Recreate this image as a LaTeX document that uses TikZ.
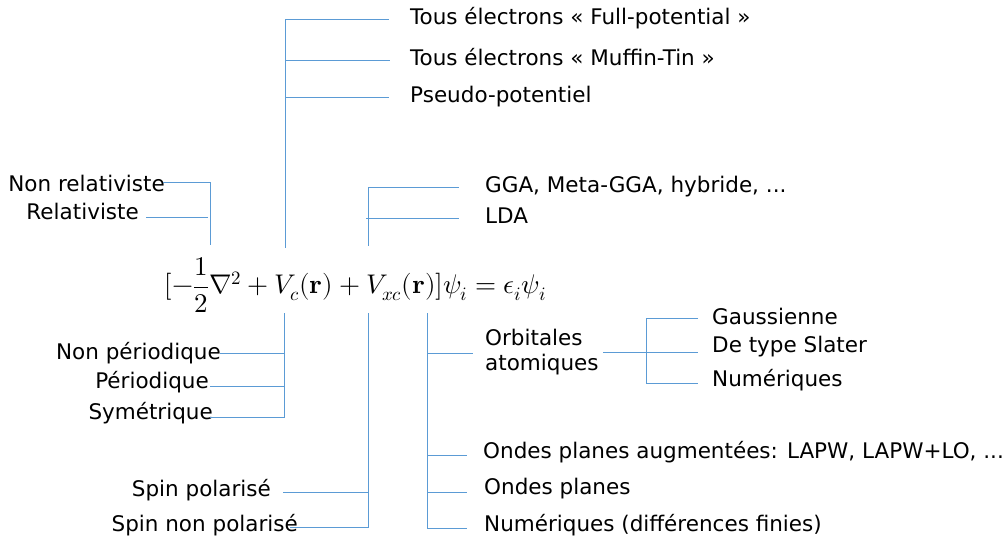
\documentclass[tikz,border=0pt]{standalone}
\usepackage{fontspec}
\setmainfont{DejaVu Sans}
\usepackage{unicode-math}
\setmathfont{Latin Modern Math}
\begin{document}
\begin{tikzpicture}[x=1pt,y=-1pt,
  br/.style={color={rgb,255:red,91;green,155;blue,213}, line width=0.9pt},
  lt/.style={anchor=west, inner sep=0pt, font=\fontsize{21.5}{25}\selectfont},
  rt/.style={anchor=east, inner sep=0pt, font=\fontsize{21.5}{25}\selectfont}]
\useasboundingbox (0,0) rectangle (1003,537);
% formula
\node[inner sep=0pt, font=\fontsize{27}{30}\selectfont] (eq) at (355.5,285)
  {$\displaystyle [-\frac{1}{2}\nabla^2+V_c(\symbf{r})+V_{xc}(\symbf{r})]\psi_i=\epsilon_i\psi_i$};
% top group
\node[lt] (fp) at (410,18) {Tous électrons « Full-potential »};
\node[lt] (mt) at (410,57) {Tous électrons « Muffin-Tin »};
\node[lt] (pp) at (410,97) {Pseudo-potentiel};
\coordinate (t0) at (285,248);
\coordinate (t1) at (285,19);
\coordinate (t1e) at (389,19);
\coordinate (t2) at (285,60);
\coordinate (t2e) at (390,60);
\coordinate (t3) at (285,97);
\coordinate (t3e) at (389,97);
\draw[br] (t0) -- (t1) -- (t1e);
\draw[br] (t2) -- (t2e);
\draw[br] (t3) -- (t3e);
% relativistic group
\node[rt] (nr) at (165,183) {Non relativiste};
\node[rt] (rl) at (139,211) {Relativiste};
\coordinate (r0) at (210,245);
\coordinate (r1) at (210,182);
\coordinate (r1e) at (163,182);
\coordinate (r2) at (208,217);
\coordinate (r2e) at (146,217);
\draw[br] (r0) -- (r1) -- (r1e);
\draw[br] (r2) -- (r2e);
% exchange group
\node[lt] (gga) at (485,187) {GGA, Meta-GGA, hybride, ...};
\node[lt] (lda) at (485,216) {LDA};
\coordinate (x0) at (368,246);
\coordinate (x1) at (368,187);
\coordinate (x1e) at (459,187);
\coordinate (x2) at (366,218);
\coordinate (x2e) at (459,218);
\draw[br] (x0) -- (x1) -- (x1e);
\draw[br] (x2) -- (x2e);
% periodicity group
\node[rt] (np) at (221,353) {Non périodique};
\node[rt] (per) at (209,382) {Périodique};
\node[rt] (sym) at (213,413) {Symétrique};
\coordinate (p0) at (284,313);
\coordinate (p1) at (284,353);
\coordinate (p1e) at (220,353);
\coordinate (p2) at (284,386);
\coordinate (p2e) at (210,386);
\coordinate (p3) at (284,417);
\coordinate (p3e) at (210,417);
\draw[br] (p0) -- (p3) -- (p3e);
\draw[br] (p1) -- (p1e);
\draw[br] (p2) -- (p2e);
% spin group
\node[rt] (sp) at (271,490) {Spin polarisé};
\node[rt] (snp) at (298,525) {Spin non polarisé};
\coordinate (s0) at (368,313);
\coordinate (s1) at (368,492);
\coordinate (s1e) at (283,492);
\coordinate (s2) at (368,527);
\coordinate (s2e) at (290,527);
\draw[br] (s0) -- (s2) -- (s2e);
\draw[br] (s1) -- (s1e);
% basis group
\node[lt, align=left] (orb) at (485,352) {Orbitales\\atomiques};
\node[lt] (lapw) at (483,452) {Ondes planes augmentées: LAPW, LAPW+LO, ...};
\node[lt] (op) at (484,489) {Ondes planes};
\node[lt] (num) at (484,525) {Numériques (différences finies)};
\coordinate (b0) at (427,313);
\coordinate (b1) at (427,353);
\coordinate (b1e) at (473,353);
\coordinate (b2) at (427,455);
\coordinate (b2e) at (467,455);
\coordinate (b3) at (427,492);
\coordinate (b3e) at (467,492);
\coordinate (b4) at (427,528);
\coordinate (b4e) at (467,528);
\draw[br] (b0) -- (b4) -- (b4e);
\draw[br] (b1) -- (b1e);
\draw[br] (b2) -- (b2e);
\draw[br] (b3) -- (b3e);
% orbital subgroup
\node[lt] (gau) at (712,316) {Gaussienne};
\node[lt] (sla) at (712,347) {De type Slater};
\node[lt] (onum) at (712,380) {Numériques};
\coordinate (o0) at (603,352);
\coordinate (o0e) at (698,352);
\coordinate (o1) at (646,318);
\coordinate (o1e) at (698,318);
\coordinate (o2) at (646,383);
\coordinate (o2e) at (698,383);
\draw[br] (o0) -- (o0e);
\draw[br] (o1e) -- (o1) -- (o2) -- (o2e);
\end{tikzpicture}
\end{document}
